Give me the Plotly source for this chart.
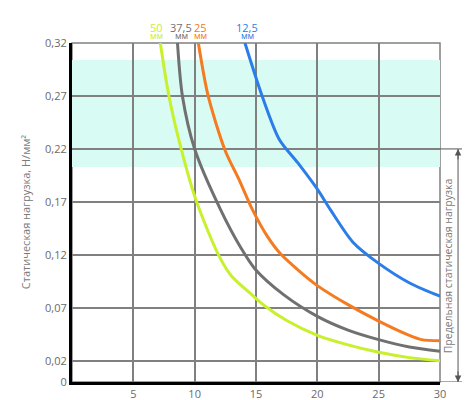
import plotly.graph_objects as go

# Кривые: зазор 50, 37,5, 25, 12,5 мм
x_50 = [7.2, 7.9, 8.9, 10.1, 11.9, 13.0, 14.7, 15.7, 17.5, 20, 22.5, 25, 27.5, 30]
y_50 = [0.32, 0.27, 0.22, 0.172, 0.121, 0.100, 0.082, 0.072, 0.058, 0.044, 0.035, 0.028, 0.023, 0.020]

x_375 = [8.6, 9.0, 10.0, 12.1, 13.8, 14.9, 17.3, 20, 22.5, 25, 27.5, 30]
y_375 = [0.32, 0.27, 0.22, 0.163, 0.126, 0.107, 0.082, 0.062, 0.049, 0.040, 0.033, 0.029]

x_25 = [10.3, 11.1, 12.5, 13.6, 14.7, 15.9, 17.0, 18.6, 20, 22.5, 25, 27.5, 28.5, 30]
y_25 = [0.32, 0.27, 0.218, 0.1915, 0.163, 0.138, 0.121, 0.104, 0.091, 0.073, 0.0575, 0.044, 0.040, 0.039]

x_125 = [14.1, 15.5, 16.9, 18.4, 20.0, 21.1, 22.9, 25.0, 27.6, 30]
y_125 = [0.32, 0.27, 0.229, 0.207, 0.182, 0.162, 0.132, 0.112, 0.093, 0.081]

series_names = ["50", "37,5", "25", "12,5"]
series_colors = ["#c8f02c", "#707070", "#f47b20", "#2b7de9"]
label_x = [6.9, 8.9, 10.5, 14.3]

x_ticks = [5, 10, 15, 20, 25, 30]
y_ticks = [0, 0.02, 0.07, 0.12, 0.17, 0.22, 0.27, 0.32]
y_ticktext = ["0", "0,02", "0,07", "0,12", "0,17", "0,22", "0,27", "0,32"]

band_low, band_high = 0.203, 0.304
limit_load = 0.22

fig = go.Figure()

for xs, ys, name, color in zip([x_50, x_375, x_25, x_125], [y_50, y_375, y_25, y_125],
                               series_names, series_colors):
    fig.add_trace(go.Scatter(
        x=xs, y=ys, mode='lines', name=name + ' мм',
        line=dict(color=color, width=3, shape='spline', smoothing=0.8),
        showlegend=False
    ))

# бирюзовая полоса
fig.add_shape(type='rect', xref='x', yref='y', x0=0, x1=30, y0=band_low, y1=band_high,
              fillcolor='#d8fbf3', line_width=0, layer='below')
# рамка сверху и справа
fig.add_shape(type='rect', xref='paper', yref='paper', x0=0, x1=1, y0=0, y1=1,
              line=dict(color='#808080', width=1.5), layer='below')

# подписи кривых сверху
for lx, name, color in zip(label_x, series_names, series_colors):
    fig.add_annotation(
        x=lx, y=1.0, xref='x', yref='paper', yanchor='middle', showarrow=False,
        text=name, font=dict(size=11, color=color), yshift=16
    )
    fig.add_annotation(
        x=lx, y=1.0, xref='x', yref='paper', yanchor='middle', showarrow=False,
        text='мм', font=dict(size=9, color=color), yshift=8
    )

# предельная нагрузка справа
fig.add_shape(type='line', xref='paper', yref='y', x0=1, x1=1.065, y0=limit_load, y1=limit_load,
              line=dict(color='#555555', width=1))
fig.add_shape(type='line', xref='paper', yref='y', x0=1, x1=1.065, y0=0, y1=0,
              line=dict(color='#555555', width=1))
fig.add_shape(type='line', xref='paper', yref='y', x0=1.049, x1=1.049, y0=0, y1=limit_load,
              line=dict(color='#555555', width=1))
for yy, off in [(limit_load, 12), (0, -12)]:
    fig.add_annotation(
        x=1.049, y=yy, xref='paper', yref='y', ax=0, ay=off,
        showarrow=True, arrowhead=2, arrowsize=1.3, arrowwidth=1,
        arrowcolor='#555555', text=''
    )
fig.add_annotation(
    x=1.024, y=limit_load / 2, xref='paper', yref='y', xanchor='center', yanchor='middle',
    showarrow=False, textangle=-90,
    text='Предельная статическая нагрузка', font=dict(size=10.5, color='#7a7a7a')
)

# подпись оси Y
fig.add_annotation(
    x=-0.126, y=0.16, xref='paper', yref='y', xanchor='center', yanchor='middle',
    showarrow=False, textangle=-90,
    text='Статическая нагрузка, Н/мм²', font=dict(size=11, color='#7a7a7a')
)

# страница добавляет 8px отступа, поэтому поля сдвинуты
fig.update_layout(
    width=470, height=400,
    margin=dict(l=64, r=38, t=35, b=26, autoexpand=False),
    plot_bgcolor='white', paper_bgcolor='white',
    font=dict(family='Open Sans', color='#6a6a6a', size=11),
    showlegend=False
)
fig.update_xaxes(
    range=[0, 30], tickvals=x_ticks, ticktext=[str(t) for t in x_ticks],
    showgrid=True, gridcolor='#808080', gridwidth=1.5,
    showline=True, linecolor='black', linewidth=3, zeroline=False, ticks='',
    tickfont=dict(size=11, color='#6a6a6a')
)
fig.update_yaxes(
    range=[0, 0.32], tickvals=y_ticks, ticktext=y_ticktext,
    showgrid=True, gridcolor='#808080', gridwidth=1.5,
    showline=True, linecolor='black', linewidth=3, zeroline=False, ticks='',
    tickfont=dict(size=11, color='#6a6a6a')
)

fig.write_html("out.html")
